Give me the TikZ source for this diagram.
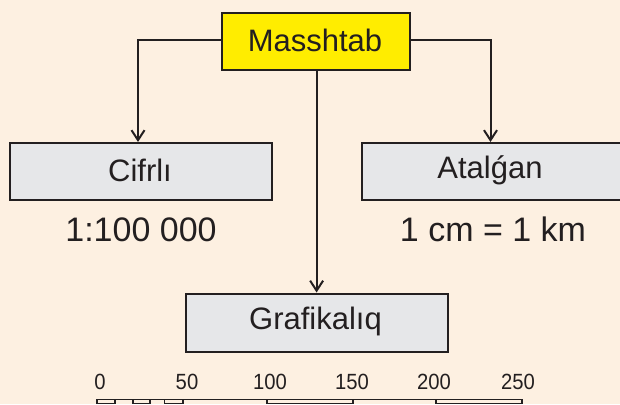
\documentclass[tikz,border=0pt]{standalone}
\usepackage{fontspec}
\setmainfont{Liberation Sans}
\usetikzlibrary{arrows.meta}
\definecolor{bgc}{RGB}{253,240,225}
\definecolor{ylw}{RGB}{255,237,0}
\definecolor{gry}{RGB}{230,231,233}
\definecolor{ink}{RGB}{35,31,32}
\tikzset{
  boxy/.style={draw=ink, line width=2.2pt, inner sep=0pt, anchor=north west},
  conn/.style={draw=ink, line width=2pt},
  arr/.style={conn, -{Straight Barb[length=10pt,width=13pt,line width=2pt]}},
  lbl/.style={text=ink, inner sep=0pt},
  scl/.style={text=ink, inner sep=0pt, font=\fontsize{22}{22}\selectfont, xscale=0.92},
  barc/.style={draw=ink, line width=1.6pt}
}
\begin{document}
\begin{tikzpicture}[x=1pt,y=-1pt]
\useasboundingbox (0,0) rectangle (620,404);
\fill[bgc] (0,0) rectangle (620,404);
% boxes
\node[boxy, fill=ylw, minimum width=188pt, minimum height=57pt] (m) at (221,12) {};
\node[lbl, font=\fontsize{31}{31}\selectfont] (mt) at (315,40.5) {Masshtab};
\node[boxy, fill=gry, minimum width=262pt, minimum height=57pt] (c) at (9,142) {};
\node[lbl, font=\fontsize{31}{31}\selectfont] (ct) at (140,170.5) {Cifrlı};
\node[boxy, fill=gry, minimum width=259pt, minimum height=57pt] (a) at (361,142) {};
\node[lbl, font=\fontsize{31}{31}\selectfont] (at) at (490,170.5) {Atalǵan};
\node[boxy, fill=gry, minimum width=262pt, minimum height=58pt] (g) at (184.5,292.5) {};
\node[lbl, font=\fontsize{31}{31}\selectfont] (gt) at (315.5,321) {Grafikalıq};
% examples
\node[lbl, font=\fontsize{34}{34}\selectfont] (ce) at (141,230) {1:100 000};
\node[lbl, font=\fontsize{34}{34}\selectfont] (ae) at (493,229) {1 cm = 1 km};
% connectors
\coordinate (cl) at (138,40.5);
\coordinate (cr) at (490.5,40.5);
\draw[arr] (m.west |- cl) -- (cl) -- (c.north -| cl);
\draw[arr] (m.east |- cr) -- (cr) -- (a.north -| cr);
\draw[arr] (m.south -| g.north) -- (g.north);
% scale bar
\foreach \v/\x in {0/100,50/187,100/270,150/352,200/434,250/518}
  \node[scl] (s\v) at (\x,382) {\v};
\begin{scope}
\clip (0,0) rectangle (620,404);
\draw[barc] (97,399.5) -- (522,399.5);
\foreach \a/\b in {97/115,133/150,164.5/183,267/353,436/522}
  \draw[barc] (\a,399.5) rectangle (\b,403.5);
\end{scope}
\end{tikzpicture}
\end{document}
